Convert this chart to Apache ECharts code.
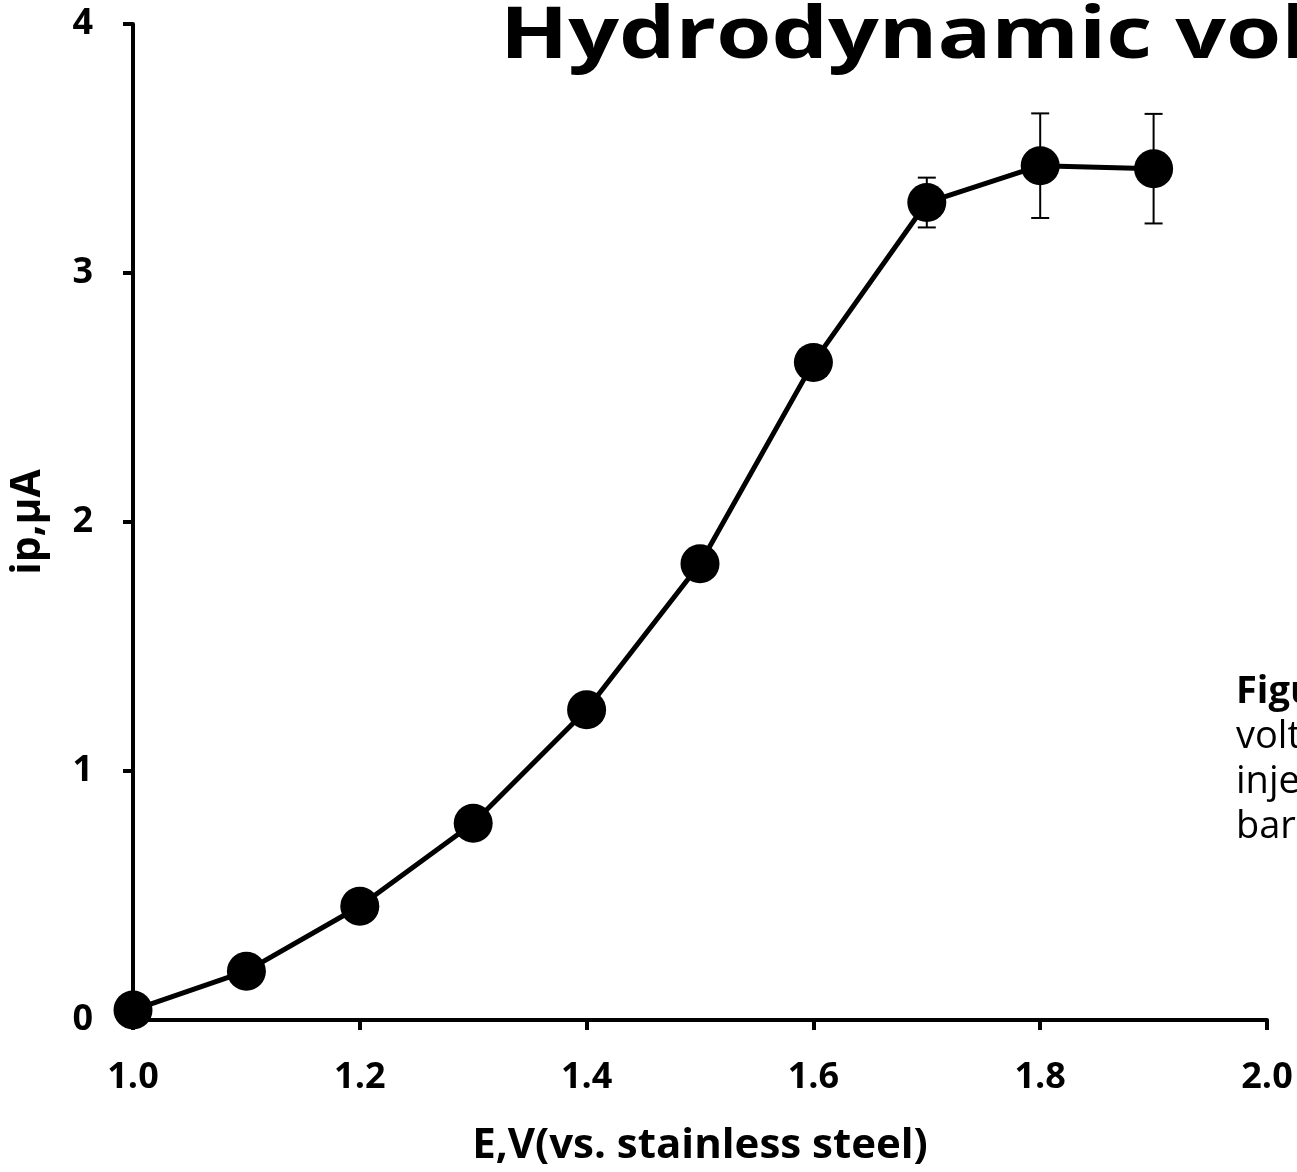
<!DOCTYPE html>
<html><head><meta charset="utf-8">
<script src="https://cdn.jsdelivr.net/npm/echarts@6/dist/echarts.min.js"></script>
<style>html,body{margin:0;padding:0;background:#fff}#c{width:1297px;height:1172px}</style>
</head><body><div id="c"></div>
<script>
const potentials = [1.0, 1.1, 1.2, 1.3, 1.4, 1.5, 1.6, 1.7, 1.8, 1.9];
const currents = [0.04, 0.196, 0.457, 0.79, 1.246, 1.832, 2.641, 3.283, 3.431, 3.419];
const errors = [0, 0, 0, 0, 0, 0, 0, 0.1, 0.21, 0.22];
const xTicks = [1.0, 1.2, 1.4, 1.6, 1.8, 2.0];
const yTicks = [0, 1, 2, 3, 4];
const titleText = 'Hydrodynamic voltammogram';
const sideTexts = [['Figure', true], ['voltammogram', false], ['injections', false], ['bars', false]];

const font = '"Open Sans", sans-serif';
const chart = echarts.init(document.getElementById('c'));
const points = potentials.map((x, i) => [x, currents[i]]);
const errData = potentials.map((x, i) => [x, currents[i], errors[i]]);

chart.setOption({
  animation: false,
  backgroundColor: '#fff',
  grid: {left: 130, right: 30, top: 24, bottom: 150},
  xAxis: {
    type: 'value', min: 1.0, max: 2.0, interval: 0.2,
    name: 'E,V(vs. stainless steel)', nameLocation: 'middle', nameGap: 105,
    nameTextStyle: {fontFamily: font, fontWeight: 'bold', fontSize: 42, color: '#000'},
    axisLine: {lineStyle: {color: '#000', width: 4}},
    axisTick: {show: true, length: 10, lineStyle: {color: '#000', width: 4}},
    axisLabel: {margin: 40, fontFamily: font, fontWeight: 'bold', fontSize: 36, color: '#000',
      formatter: v => xTicks.find(t => Math.abs(t - v) < 1e-6).toFixed(1)},
    splitLine: {show: false}
  },
  yAxis: {
    type: 'value', min: 0, max: 4, interval: 1,
    name: 'ip,µA', nameLocation: 'middle', nameGap: 84,
    nameTextStyle: {fontFamily: font, fontWeight: 'bold', fontSize: 41, color: '#000'},
    axisLine: {lineStyle: {color: '#000', width: 4}},
    axisTick: {show: true, length: 10, lineStyle: {color: '#000', width: 4}},
    axisLabel: {margin: 40, fontFamily: font, fontWeight: 'bold', fontSize: 36, color: '#000',
      formatter: v => String(yTicks.find(t => Math.abs(t - v) < 1e-6))},
    splitLine: {show: false}
  },
  series: [
    {
      type: 'custom', z: 1,
      data: errData,
      renderItem: (params, api) => {
        const e = api.value(2);
        if (!e) return null;
        const x = api.value(0), y = api.value(1);
        const top = api.coord([x, y + e]);
        const bot = api.coord([x, y - e]);
        const hw = 9;
        const st = {stroke: '#000', lineWidth: 2};
        return {type: 'group', children: [
          {type: 'line', shape: {x1: top[0], y1: top[1], x2: bot[0], y2: bot[1]}, style: st},
          {type: 'line', shape: {x1: top[0] - hw, y1: top[1], x2: top[0] + hw, y2: top[1]}, style: st},
          {type: 'line', shape: {x1: bot[0] - hw, y1: bot[1], x2: bot[0] + hw, y2: bot[1]}, style: st}
        ]};
      }
    },
    {
      type: 'line', z: 2,
      data: points,
      symbol: 'circle', symbolSize: 39,
      lineStyle: {color: '#000', width: 5},
      itemStyle: {color: '#000'}
    }
  ],
  graphic: [
    {type: 'text', x: 500, y: 1, scaleX: 1.24, scaleY: 1,
      style: {text: titleText, x: 0, y: 0, verticalAlign: 'top', fontFamily: font, fontWeight: 'bold', fontSize: 72, fill: '#000'}},
    ...sideTexts.map((t, i) => ({type: 'text', x: 1236, y: 692 + i * 45,
      style: {text: t[0], x: 0, y: 0, verticalAlign: 'middle', fontFamily: font, fontWeight: t[1] ? 'bold' : 'normal', fontSize: 38, fill: '#000'}}))
  ]
});
</script></body></html>
